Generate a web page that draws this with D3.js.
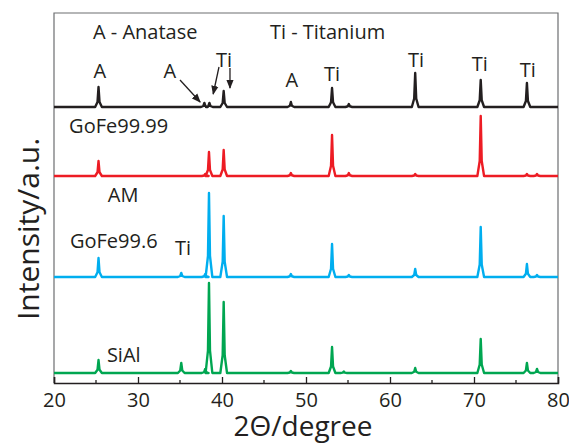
<!DOCTYPE html>
<html>
<head>
<meta charset="utf-8">
<script src="https://cdn.jsdelivr.net/npm/d3@7"></script>
<style>
  body { margin: 0; background: #fff; }
  svg text { font-family: "Open Sans", sans-serif; fill: #231f20; }
</style>
</head>
<body>
<div id="chart"></div>
<script>
// 2theta range and ticks
const xDomain = [20, 80];
const majorTicks = [20, 30, 40, 50, 60, 70, 80];
const minorTicks = [25, 35, 45, 55, 65, 75];

// samples, stacked from top to bottom
const samples = ['AM', 'GoFe99.99', 'GoFe99.6', 'SiAl'];
const colors = ['#231f20', '#ed1c24', '#00aeef', '#00a651'];
const offsets = [276, 207, 106, 10];   // baseline of each trace (a.u.)

// peaks: [2theta, height above baseline]
const peaksAM = [[25.3, 20], [37.9, 4], [38.5, 4], [40.2, 16], [48.2, 5], [53.1, 19],
  [55.1, 3], [63.0, 34], [70.8, 27], [76.3, 24]];
const peaks9999 = [[25.3, 15], [38.0, 2], [38.45, 24], [40.2, 26], [48.2, 3], [53.1, 41],
  [55.1, 3], [63.0, 2], [70.8, 60], [76.3, 2], [77.5, 2]];
const peaks996 = [[25.3, 19], [35.15, 4], [38.0, 3], [38.45, 84], [40.2, 61], [48.2, 3],
  [53.1, 33], [55.1, 2], [63.0, 8], [70.8, 50], [76.3, 13], [77.5, 2]];
const peaksSiAl = [[25.3, 13], [35.15, 10], [38.0, 4], [38.45, 90], [40.2, 71], [48.2, 2],
  [53.1, 26], [54.5, 1.5], [63.0, 5], [70.8, 34], [76.3, 10], [77.5, 4]];
const allPeaks = [peaksAM, peaks9999, peaks996, peaksSiAl];

// text labels: [text, 2theta, intensity]
const peakLabels = [['A', 25.45, 305], ['A', 33.8, 305], ['Ti', 40.24, 316], ['A', 48.3, 296],
  ['Ti', 53.1, 302], ['Ti', 63.1, 316], ['Ti', 70.7, 312], ['Ti', 76.4, 306]];
const textLabels = [['A - Anatase', 24.64, 344], ['Ti - Titanium', 45.7, 344],
  ['GoFe99.99', 21.8, 250], ['AM', 26.4, 181], ['GoFe99.6', 21.9, 135],
  ['Ti', 34.4, 128], ['SiAl', 26.3, 21]];
// arrows: [x1, y1, x2, y2] in data units
const arrows = [[35.0, 303, 37.4, 281], [39.64, 316, 38.95, 289], [40.95, 315, 40.95, 295]];

let width = 569, height = 444;
let margin = { left: 54, right: 11, top: 13, bottom: 61 };

let svg = d3.select('#chart').append('svg')
  .attr('width', width)
  .attr('height', height);

let x = d3.scaleLinear().domain(xDomain).range([margin.left, width - margin.right]);
let y = d3.scaleLinear().domain([0, 370]).range([height - margin.bottom, margin.top]);

svg.append('defs').append('marker')
  .attr('id', 'head')
  .attr('viewBox', '0 0 10 10')
  .attr('refX', 9).attr('refY', 5)
  .attr('markerWidth', 7).attr('markerHeight', 7)
  .attr('orient', 'auto-start-reverse')
  .append('path')
  .attr('d', 'M0,1 L10,5 L0,9 Z')
  .attr('fill', '#231f20');

// frame (left, top, right)
svg.append('path')
  .attr('d', `M${x(20)},${y(0)}V${y(370)}H${x(80)}V${y(0)}`)
  .attr('fill', 'none')
  .attr('stroke', '#6d6e71')
  .attr('stroke-width', 1.2);

// build trace from peak list: baseline + narrow peak profile
const shape = [[-0.4, 0], [-0.12, 0.25], [0, 1], [0.12, 0.25], [0.4, 0]];
function tracePoints(peaks) {
  let pts = [[xDomain[0], 0]];
  peaks.forEach(p => shape.forEach(s => pts.push([p[0] + s[0], p[1] * s[1]])));
  pts.push([xDomain[1], 0]);
  return pts;
}

let line = d3.line()
  .x(d => x(d[0]))
  .y(d => y(d[1]));

samples.forEach((name, i) => {
  svg.append('path')
    .datum(tracePoints(allPeaks[i]).map(d => [d[0], d[1] + offsets[i]]))
    .attr('fill', 'none')
    .attr('stroke', colors[i])
    .attr('stroke-width', 2.4)
    .attr('stroke-linejoin', 'round')
    .attr('d', line);
});

// bottom axis
let axis = svg.append('g')
  .attr('transform', `translate(0,${y(0)})`)
  .call(d3.axisBottom(x).tickValues(majorTicks).tickSize(-6).tickPadding(10).tickFormat(d3.format('d')));
axis.select('.domain').attr('stroke', '#231f20').attr('stroke-width', 1.5);
axis.selectAll('.tick line').attr('stroke', '#231f20').attr('stroke-width', 1.3);
axis.selectAll('.tick text').style('font-size', '20px').attr('fill', '#231f20');

svg.append('g').selectAll('line')
  .data(minorTicks)
  .join('line')
  .attr('x1', d => x(d)).attr('x2', d => x(d))
  .attr('y1', y(0)).attr('y2', y(0) - 3)
  .attr('stroke', '#231f20')
  .attr('stroke-width', 1.3);

svg.append('text')
  .attr('x', 303).attr('y', 436)
  .attr('text-anchor', 'middle')
  .style('font-size', '28px')
  .text('2\u0398/degree');

svg.append('text')
  .attr('transform', 'translate(39,229) rotate(-90)')
  .attr('text-anchor', 'middle')
  .style('font-size', '30px')
  .text('Intensity/a.u.');

svg.append('g').selectAll('text')
  .data(peakLabels)
  .join('text')
  .attr('x', d => x(d[1]))
  .attr('y', d => y(d[2]))
  .attr('text-anchor', 'middle')
  .style('font-size', '20px')
  .text(d => d[0]);

svg.append('g').selectAll('text')
  .data(textLabels)
  .join('text')
  .attr('x', d => x(d[1]))
  .attr('y', d => y(d[2]))
  .style('font-size', '20px')
  .text(d => d[0]);

svg.append('g').selectAll('line')
  .data(arrows)
  .join('line')
  .attr('x1', d => x(d[0])).attr('y1', d => y(d[1]))
  .attr('x2', d => x(d[2])).attr('y2', d => y(d[3]))
  .attr('stroke', '#231f20')
  .attr('stroke-width', 1.3)
  .attr('marker-end', 'url(#head)');
</script>
</body>
</html>
